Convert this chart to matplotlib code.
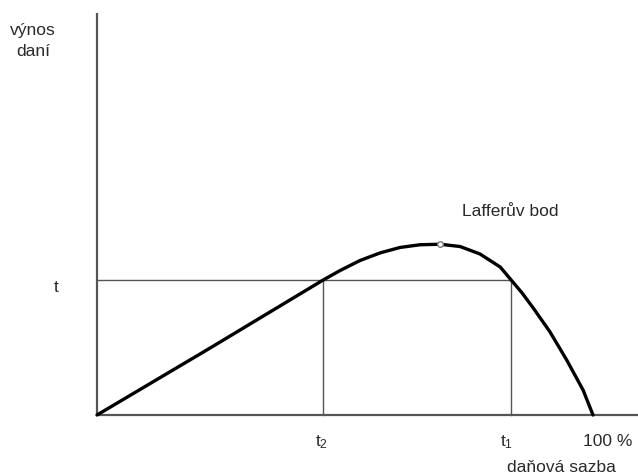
import matplotlib
matplotlib.use("Agg")
import matplotlib.pyplot as plt

plt.rcParams['font.family'] = ['Liberation Sans', 'DejaVu Sans']
plt.rcParams['mathtext.fontset'] = 'custom'
plt.rcParams['mathtext.rm'] = 'Liberation Sans'
plt.rcParams['mathtext.it'] = 'Liberation Sans'

# Laffer curve (tax rate in %, tax revenue with t = 100)
rate = [0, 22.8, 45.6, 49.0, 53.0, 57.1, 61.1, 65.1, 69.2, 73.2, 77.2, 81.3,
        83.5, 85.7, 88.0, 91.3, 94.7, 98.0, 100]
revenue = [0, 49.6, 100, 107.0, 114.4, 120.1, 124.1, 126.1, 126.5, 124.8, 119.3, 109.6,
           100, 90.4, 79.0, 61.7, 40.7, 18.5, 0]

t_level = 100
t2 = 45.6
t1 = 83.5
laffer_point = (69.2, 126.5)

W, H = 638, 475
fig = plt.figure(figsize=(W / 100, H / 100), dpi=100)
ax = fig.add_axes([0, 0, 1, 1])
sx = 4.96   # px per x unit
sy = 1.35   # px per y unit
x0, y0 = 97, 415
ax.set_xlim(-x0 / sx, (W - x0) / sx)
ax.set_ylim((y0 - H) / sy, y0 / sy)
ax.axis('off')

axis_col = '#555555'
# axes
ax.plot([0, 0], [0, (y0 - 13) / sy], color=axis_col, lw=1.6, solid_capstyle='butt')
ax.plot([0, (W - x0) / sx], [0, 0], color=axis_col, lw=1.6, solid_capstyle='butt')
# guide lines
ax.plot([0, t1], [t_level, t_level], color=axis_col, lw=1.0)
ax.plot([t2, t2], [0, t_level], color=axis_col, lw=1.0)
ax.plot([t1, t1], [0, t_level], color=axis_col, lw=1.0)
# curve
ax.plot(rate, revenue, color='black', lw=2.4, solid_joinstyle='round', solid_capstyle='round')
ax.plot([laffer_point[0]], [laffer_point[1]], marker='o', ms=4, mfc='white', mec='#777777', mew=1)

tc = '#2a2a2a'
fs = 12.5
def ptext(x, y, s, **kw):
    fig.text(x / W, 1 - y / H, s, color=tc, fontsize=fs, ha='center', va='center', **kw)

ptext(33, 31, 'výnos')
ptext(33, 52, 'daní')
ptext(56, 287, 't')
ptext(322, 442, r'$\mathrm{t}_2$')
ptext(507, 442, r'$\mathrm{t}_1$')
ptext(608, 442, '100 %')
ptext(561, 468, 'daňová sazba')
ptext(510, 211, 'Lafferův bod')

fig.savefig('out.png', dpi=100)
